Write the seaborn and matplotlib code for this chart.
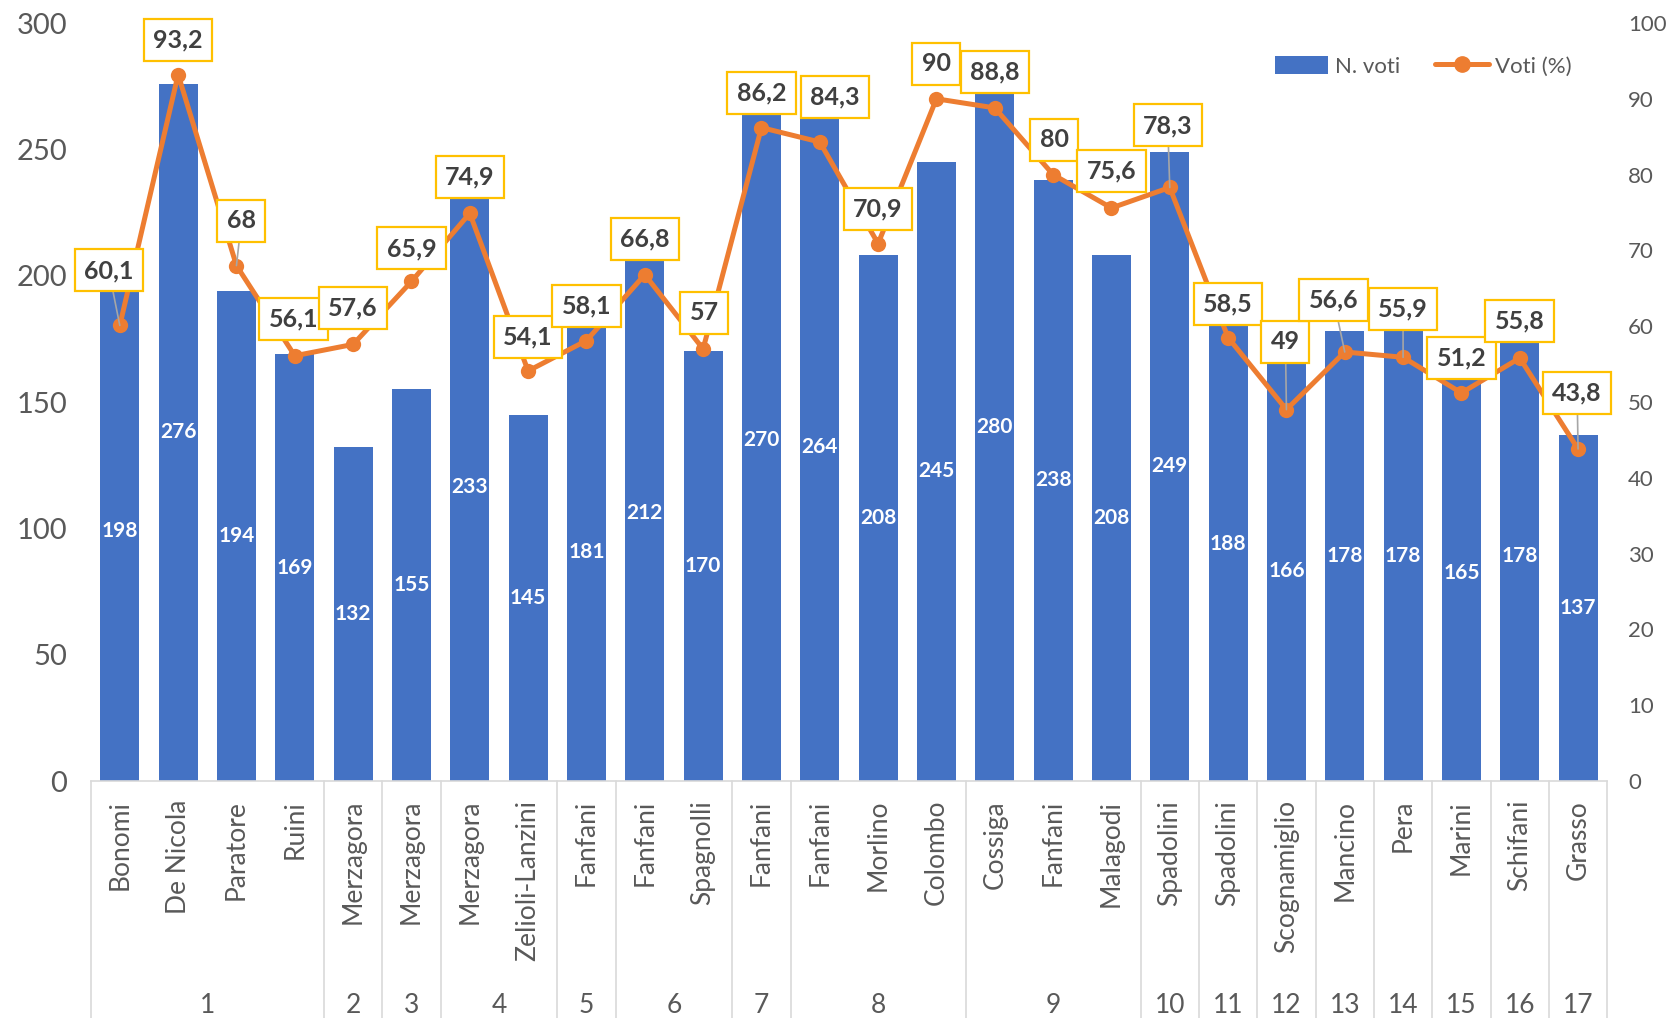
import numpy as np
import pandas as pd
import matplotlib
matplotlib.use("Agg")
import matplotlib.pyplot as plt
import matplotlib.transforms as mtransforms
from matplotlib.patches import Patch
from matplotlib.lines import Line2D
import seaborn as sns

# --- data -------------------------------------------------------------
candidati = ["Bonomi", "De Nicola", "Paratore", "Ruini", "Merzagora", "Merzagora",
             "Merzagora", "Zelioli-Lanzini", "Fanfani", "Fanfani", "Spagnolli", "Fanfani",
             "Fanfani", "Morlino", "Colombo", "Cossiga", "Fanfani", "Malagodi",
             "Spadolini", "Spadolini", "Scognamiglio", "Mancino", "Pera", "Marini",
             "Schifani", "Grasso"]
legislatura = [1, 1, 1, 1, 2, 3, 4, 4, 5, 6, 6, 7, 8, 8, 8, 9, 9, 9,
               10, 11, 12, 13, 14, 15, 16, 17]
n_voti = [198, 276, 194, 169, 132, 155, 233, 145, 181, 212, 170, 270, 264,
          208, 245, 280, 238, 208, 249, 188, 166, 178, 178, 165, 178, 137]
voti_pct = [60.1, 93.2, 68, 56.1, 57.6, 65.9, 74.9, 54.1, 58.1, 66.8, 57, 86.2,
            84.3, 70.9, 90, 88.8, 80, 75.6, 78.3, 58.5, 49, 56.6, 55.9, 51.2,
            55.8, 43.8]

# label placement (pixel offsets from each point) and which labels get a leader line
label_offsets = [(-11, 55), (0, 35), (5, 45), (-1, 37), (0, 36), (0, 33), (0, 36),
                 (0, 34), (0, 35), (0, 36), (1, 36), (0, 35), (15, 45), (0, 35),
                 (0, 35), (0, 36), (1, 35), (0, 37), (-2, 62), (0, 34), (-1, 68),
                 (-11, 52), (0, 48), (0, 35), (0, 37), (-1, 56)]
leader = {0, 2, 18, 20, 21, 22, 25}

BLUE = "#4472C4"
ORANGE = "#ED7D31"
GOLD = "#FFC000"
GREY = "#595959"
DARK = "#404040"

sns.set_theme(style="white")
plt.rcParams["font.family"] = ["Lato", "DejaVu Sans"]

df = pd.DataFrame({"pos": np.arange(len(n_voti)), "n_voti": n_voti, "pct": voti_pct})

fig = plt.figure(figsize=(16.69, 10.18), dpi=100)
ax = fig.add_axes([0.0543, 0.2328, 0.9087, 0.7446])

sns.barplot(data=df, x="pos", y="n_voti", color=BLUE, saturation=1,
            width=0.67, linewidth=0, ax=ax)
ax.bar_label(ax.containers[0], labels=[str(v) for v in n_voti], label_type="center",
             color="white", fontsize=15, fontweight="bold")

ax.set_xlim(-0.5, len(n_voti) - 0.5)
ax.set_ylim(0, 300)
ax.set_yticks(np.arange(0, 301, 50))
ax.set_xticks([])
ax.set_xlabel("")
ax.set_ylabel("")
ax.tick_params(axis="y", length=0, pad=17, labelsize=21, labelcolor=GREY)
for s in ["top", "left", "right"]:
    ax.spines[s].set_visible(False)
ax.spines["bottom"].set_color("#D9D9D9")
ax.spines["bottom"].set_linewidth(1.2)

ax2 = ax.twinx()
sns.lineplot(data=df, x="pos", y="pct", color=ORANGE, linewidth=3.6, marker="o",
             markersize=11, markeredgewidth=0, ax=ax2)
ax2.set_ylim(0, 100)
ax2.set_yticks(np.arange(0, 101, 10))
ax2.set_ylabel("")
ax2.set_xlabel("")
ax2.tick_params(axis="y", length=0, pad=15, labelsize=16, labelcolor=GREY)
for s in ["top", "left", "right", "bottom"]:
    ax2.spines[s].set_visible(False)
ax2.set_xlim(-0.5, len(n_voti) - 0.5)

for i, (p, (dx, dy)) in enumerate(zip(voti_pct, label_offsets)):
    txt = f"{p:g}".replace(".", ",")
    kw = {}
    if i in leader:
        kw["arrowprops"] = dict(arrowstyle="-", color="#A6A6A6", lw=1.2,
                                shrinkA=0, shrinkB=0)
    ax2.annotate(txt, xy=(i, p), xytext=(dx, dy), textcoords="offset pixels",
                 ha="center", va="center", fontsize=18, fontweight="bold", color=DARK,
                 bbox=dict(boxstyle="square,pad=0.38", fc="white", ec=GOLD, lw=1.6),
                 zorder=5, **kw)

# multi-level category axis
trans = mtransforms.blended_transform_factory(ax.transData, ax.transAxes)
for i, name in enumerate(candidati):
    ax.text(i, -0.025, name, rotation=90, ha="center", va="top", fontsize=19,
            color=GREY, transform=trans, clip_on=False)

groups = pd.Series(legislatura)
sizes = groups.groupby(groups, sort=False).size()
edges = np.concatenate([[0], np.cumsum(sizes.values)]) - 0.5
for e in edges:
    ax.plot([e, e], [0, -0.32], color="#D9D9D9", lw=1.2, transform=trans,
            clip_on=False)
for g, lo, hi in zip(sizes.index, edges[:-1], edges[1:]):
    ax.text((lo + hi) / 2, -0.296, str(g), ha="center", va="center", fontsize=19,
            color=GREY, transform=trans, clip_on=False)

handles = [Patch(facecolor=BLUE, edgecolor="none", label="N. voti"),
           Line2D([0], [0], color=ORANGE, lw=3.6, marker="o", markersize=11,
                  label="Voti (%)")]
leg = ax2.legend(handles=handles, loc="center right", bbox_to_anchor=(0.99, 0.943),
                 ncol=2, frameon=False, fontsize=16, handlelength=2.4,
                 handleheight=0.9, columnspacing=1.6, handletextpad=0.3)
for t in leg.get_texts():
    t.set_color(GREY)

fig.savefig("out.png", dpi=100)
